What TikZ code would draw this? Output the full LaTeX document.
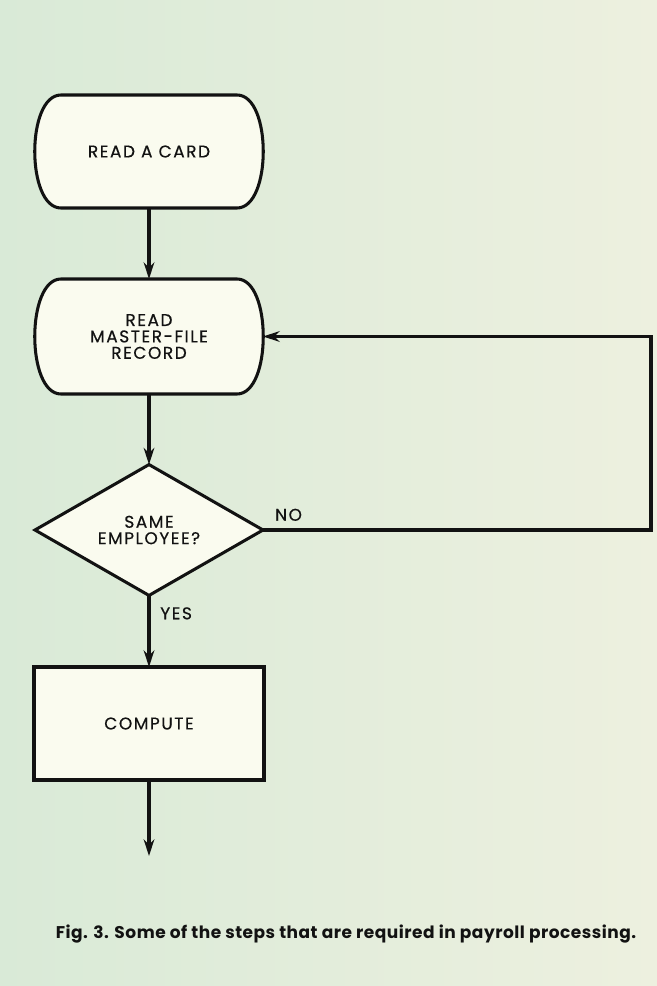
\documentclass[tikz,border=0pt]{standalone}
\usepackage{fontspec}
\setmainfont{Poppins}
\newfontfamily\labelfont[FakeBold=0.5, LetterSpace=9]{Poppins}
\newfontfamily\captionfont[LetterSpace=3]{Poppins}
\usepackage{xcolor}
\usetikzlibrary{arrows.meta, positioning, calc, shapes.geometric, backgrounds}

\definecolor{paper}{HTML}{D9EAD7}
\definecolor{paperlight}{HTML}{EDF0DF}
\definecolor{boxfill}{HTML}{FAFBEF}
\definecolor{ink}{HTML}{121212}

\newcommand{\boxfont}{\labelfont\fontsize{14.5}{17}\selectfont}

\begin{document}
\begin{tikzpicture}[x=0.03cm, y=-0.03cm,
    every node/.style={font=\boxfont, text=ink},
    edge/.style={draw=ink, line width=2.6pt},
    readbox/.style={minimum width=5.28cm, inner sep=0pt, outer sep=0pt, align=center},
    testbox/.style={diamond, edge, fill=boxfill, minimum width=6.84cm, minimum height=3.9cm,
        inner sep=0pt, outer sep=0pt, align=center},
    workbox/.style={rectangle, edge, fill=boxfill, minimum width=6.9cm, minimum height=3.39cm,
        inner sep=0pt, outer sep=0pt},
    flow/.style={edge, -{Stealth[length=5mm, width=3.2mm]}},
    tag/.style={font=\boxfont}]

    \useasboundingbox (0,0) rectangle (657,986);

    % input steps, outlines drawn behind the text
    \node[readbox, minimum height=3.39cm] (card) at (149,151.5) {READ\ A\ CARD};
    \node[readbox, minimum height=3.45cm] (master) at (149,336.5) {READ\\[-3pt]MASTER-FILE\\[-3pt]RECORD};
    \begin{pgfonlayer}{background}
        \shade[left color=paper, right color=paperlight] (0,0) rectangle (657,986);
        \foreach \n in {card, master} {
            \draw[edge, fill=boxfill] (\n.north west) -- (\n.north east)
                .. controls ($(\n.north east)+(35,0)$) and ($(\n.south east)+(35,0)$) .. (\n.south east)
                -- (\n.south west)
                .. controls ($(\n.south west)+(-35,0)$) and ($(\n.north west)+(-35,0)$) .. (\n.north west) -- cycle;
        }
    \end{pgfonlayer}

    % decision and compute
    \node[testbox] (same) at (149,530) {SAME\\[-3pt]EMPLOYEE?};
    \node[workbox] (compute) at (149,723.5) {COMPUTE};
    \coordinate (out) at (149,856);
    \coordinate (back) at (651,0);

    \draw[flow] (card.south) -- (master.north);
    \draw[flow] (master.south) -- (same.north);
    \draw[flow] (same.south) -- node[right=5pt, pos=0.25, tag] {YES} (compute.north);
    \draw[flow] (compute.south) -- (out);
    \draw[flow] (same.east) -- (same.east -| back) -- (back |- master.east)
        -- ($(master.east)+(26,0)$);
    \node[tag, anchor=south west] at ($(same.east)+(8,-5)$) {NO};

    % caption
    \node[font=\captionfont\bfseries\fontsize{14.5}{17}\selectfont] (caption) at (346,934)
        {Fig. 3. Some of the steps that are required in payroll processing.};
\end{tikzpicture}
\end{document}
